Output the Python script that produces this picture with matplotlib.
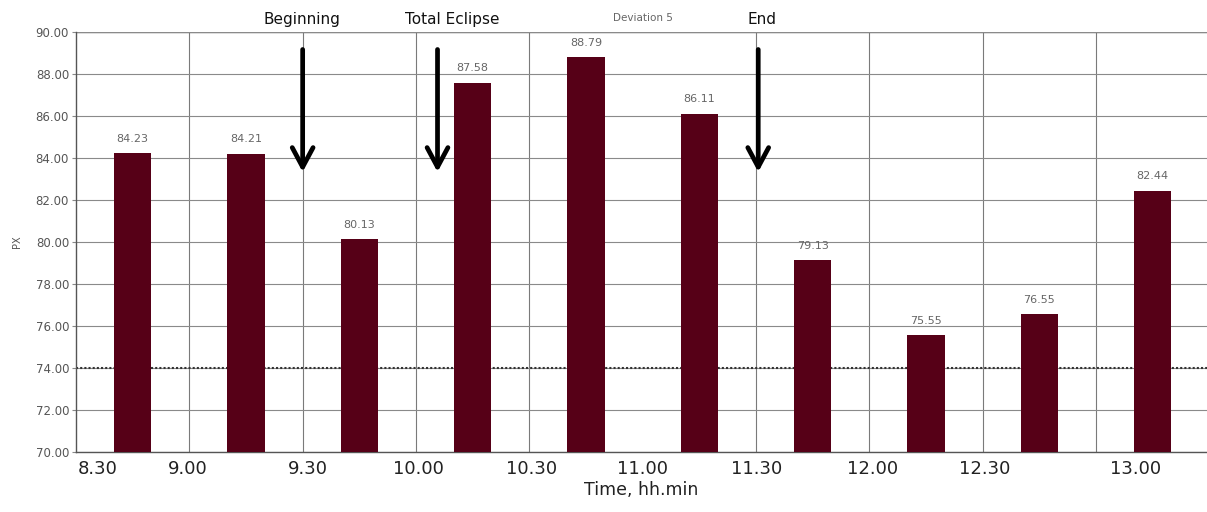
import numpy as np
import matplotlib.pyplot as plt

# Data
values = [84.23, 84.21, 80.13, 87.58, 88.79, 86.11, 79.13, 75.55, 76.55, 82.44]
time_labels = ['8.30', '9.00', '9.30', '10.00', '10.30', '11.00', '11.30', '12.00', '12.30', '13.00']
label_pos = [0.19, 0.99, 2.05, 3.02, 4.02, 5.0, 6.01, 7.03, 8.02, 9.35]
events = ['Beginning', 'Total Eclipse', 'End']
event_x = [2.0, 3.19, 6.02]
event_text_x = [1.99, 3.32, 6.05]

bar_color = '#560017'

fig = plt.figure(figsize=(12.07, 5.12), dpi=100)
ax = fig.add_axes([76 / 1207, 60 / 512, 1131 / 1207, 420 / 512])

x = np.arange(len(values)) + 0.5
ax.bar(x, np.array(values) - 70, bottom=70, width=0.33, color=bar_color, zorder=3)
for xi, v in zip(x, values):
    ax.text(xi, v + 0.45, f'{v:.2f}', ha='center', va='bottom', fontsize=8, color='#666666', zorder=4)

ax.set_xlim(0, 9.98)
ax.set_ylim(70, 90)

# grid
ax.set_xticks(np.arange(1, 10), minor=True)
ax.set_yticks(np.arange(70, 91, 2))
ax.set_yticklabels([f'{v:.2f}' for v in np.arange(70, 91, 2)], fontsize=8.5, color='#555555')
ax.grid(which='minor', axis='x', color='#7a7a7a', linewidth=0.8, zorder=1)
ax.grid(which='major', axis='y', color='#8a8a8a', linewidth=0.8, zorder=1)
ax.axhline(74, color='#333333', linewidth=1.5, linestyle=(0, (1, 1)), zorder=2)
ax.tick_params(axis='y', length=3, pad=2, color='#888888')
ax.tick_params(axis='x', which='both', length=0)

ax.set_xticks(label_pos)
ax.set_xticklabels(time_labels, fontsize=13, color='#222222')
ax.tick_params(axis='x', pad=6)
ax.set_xlabel('Time, hh.min', fontsize=12.5, color='#222222', labelpad=2)
ax.set_ylabel('PX', fontsize=7, color='#555555', labelpad=10)

for s in ['top', 'right']:
    ax.spines[s].set_visible(False)
for s in ['left', 'bottom']:
    ax.spines[s].set_color('#555555')
    ax.spines[s].set_linewidth(1.0)
ax.axhline(90, color='#666666', linewidth=1.0, zorder=1)

# event arrows
for name, ex, tx in zip(events, event_x, event_text_x):
    ax.annotate('', xy=(ex, 83.2), xytext=(ex, 89.3),
                arrowprops=dict(arrowstyle='->,head_length=1.4,head_width=0.75', color='black', lw=3.4),
                annotation_clip=False, zorder=5)
    ax.text(tx, 90.6, name, ha='center', va='center', fontsize=11, color='#111111', clip_on=False)

ax.text(5.0, 90.65, 'Deviation 5', ha='center', va='center', fontsize=7.5, color='#666666', clip_on=False)

fig.savefig('out.png', dpi=100, facecolor='white')
